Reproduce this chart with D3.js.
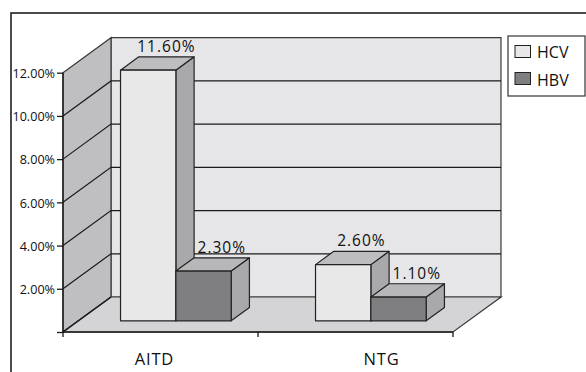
<!DOCTYPE html>
<html><head><meta charset="utf-8">
<script src="https://cdn.jsdelivr.net/npm/d3@7"></script>
<style>body{margin:0;background:#fff}svg{display:block}text{font-family:"Open Sans",sans-serif;fill:#111}</style>
</head><body><svg id="c" width="586" height="372"></svg>
<script>
const categories = ["AITD", "NTG"];
const seriesNames = ["HCV", "HBV"];
const hcvValues = [11.6, 2.6];
const hbvValues = [2.3, 1.1];
const valueLabels = [["11.60%", "2.30%"], ["2.60%", "1.10%"]];
const yTicks = [0, 2, 4, 6, 8, 10, 12];
const yTickLabels = ["", "2.00%", "4.00%", "6.00%", "8.00%", "10.00%", "12.00%"];

const svg = d3.select("#c");
const frontX0 = 63, frontX1 = 453, frontY0 = 332, frontY1 = 72.7;
const DX = 48, DY = -35;           // wall depth offset
const bDepthStart = 0.32, bDepthEnd = 0.70; // bar depth fractions

const y = d3.scaleLinear().domain([0, 12]).range([frontY0, frontY1]);
const x = d3.scaleBand().domain(categories).range([frontX0, frontX1]);
const xs = d3.scaleBand().domain(seriesNames).range([0, x.bandwidth()]).paddingInner(0).paddingOuter(0.762);
const xl = d3.scaleBand().domain(categories).range([41, 495]);

// outer frame
svg.append("rect").attr("x", 11).attr("y", 13).attr("width", 640).attr("height", 420)
  .attr("fill", "none").attr("stroke", "#111").attr("stroke-width", 1.5);

const line = d3.line();
const stroke = "#3a3a3a";
// back wall
svg.append("path").attr("d", line([[frontX0+DX, y(12)+DY],[frontX1+DX, y(12)+DY],[frontX1+DX, y(0)+DY],[frontX0+DX, y(0)+DY]])+"Z")
  .attr("fill", "#e6e6e8").attr("stroke", stroke).attr("stroke-width", 1.2);
// side wall
svg.append("path").attr("d", line([[frontX0, y(12)],[frontX0+DX, y(12)+DY],[frontX0+DX, y(0)+DY],[frontX0, y(0)]])+"Z")
  .attr("fill", "#bfbfc2").attr("stroke", stroke).attr("stroke-width", 1.2);
// floor
svg.append("path").attr("d", line([[frontX0, y(0)],[frontX1, y(0)],[frontX1+DX, y(0)+DY],[frontX0+DX, y(0)+DY]])+"Z")
  .attr("fill", "#d4d4d6").attr("stroke", stroke).attr("stroke-width", 1.2);

// gridlines
yTicks.filter(t => t > 0 && t < 12).forEach(t => {
  svg.append("path").attr("d", line([[frontX0, y(t)],[frontX0+DX, y(t)+DY],[frontX1+DX, y(t)+DY]]))
    .attr("fill", "none").attr("stroke", "#1a1a1a").attr("stroke-width", 1.2);
});
// diagonal floor edge (left)
svg.append("path").attr("d", line([[frontX0, y(0)],[frontX0+DX, y(0)+DY]])).attr("stroke", "#1a1a1a").attr("stroke-width", 1.4);

// y axis
const yAxis = d3.axisLeft(y).tickValues(yTicks).tickSize(6).tickFormat((d, i) => yTickLabels[i]);
const ga = svg.append("g").attr("transform", `translate(${frontX0},0)`).call(yAxis);
ga.select(".domain").attr("stroke", "#1a1a1a").attr("stroke-width", 1.4).attr("d", `M0,${y(12)}V${y(0)}`);
ga.selectAll(".tick line").attr("stroke", "#1a1a1a").attr("stroke-width", 1.3);
ga.selectAll(".tick text").attr("x", -8).attr("font-size", 12.6).attr("font-family", "'Open Sans',sans-serif").attr("fill", "#111").attr("dy", "0.38em");

// x axis
const xAxis = d3.axisBottom(x).tickValues([]).tickSize(0);
const gx = svg.append("g").attr("transform", `translate(0,${frontY0})`).call(xAxis);
gx.select(".domain").attr("stroke", "#1a1a1a").attr("stroke-width", 1.4).attr("d", `M${frontX0},0H${frontX1}`);
[frontX0, frontX0 + x.step(), frontX1].forEach(t => {
  gx.append("line").attr("x1", t).attr("x2", t).attr("y1", 0).attr("y2", 5).attr("stroke", "#1a1a1a").attr("stroke-width", 1.3);
});
categories.forEach(c => {
  svg.append("text").attr("x", xl(c) + xl.bandwidth()/2).attr("y", 365).attr("text-anchor", "middle")
    .attr("font-size", 16.5).attr("letter-spacing", 0.8).text(c);
});

// bars
const fills = {HCV: {front: "#e8e8e9", top: "#bdbdc0", side: "#a9a9ac"}, HBV: {front: "#7f7f81", top: "#b7b7ba", side: "#a9a9ac"}};
const sx = DX * bDepthStart, sy = DY * bDepthStart;
const bdx = DX * (bDepthEnd - bDepthStart), bdy = DY * (bDepthEnd - bDepthStart);
categories.forEach((c, ci) => {
  const vals = [hcvValues[ci], hbvValues[ci]];
  seriesNames.forEach((s, si) => {
    const v = vals[si];
    const x0 = x(c) + xs(s) + sx, x1 = x0 + xs.bandwidth();
    const yb = y(0) + sy, yt = y(v) + sy;
    const f = fills[s];
    svg.append("path").attr("d", line([[x1, yt],[x1+bdx, yt+bdy],[x1+bdx, yb+bdy],[x1, yb]])+"Z")
      .attr("fill", f.side).attr("stroke", "#222").attr("stroke-width", 1.2).attr("stroke-linejoin", "round");
    svg.append("path").attr("d", line([[x0, yt],[x0+bdx, yt+bdy],[x1+bdx, yt+bdy],[x1, yt]])+"Z")
      .attr("fill", f.top).attr("stroke", "#222").attr("stroke-width", 1.2).attr("stroke-linejoin", "round");
    svg.append("path").attr("d", line([[x0, yt],[x1, yt],[x1, yb],[x0, yb]])+"Z")
      .attr("fill", f.front).attr("stroke", "#222").attr("stroke-width", 1.2).attr("stroke-linejoin", "round");
  });
  seriesNames.forEach((s, si) => {
    const v = vals[si];
    const cx = x(c) + xs(s) + xs.bandwidth()/2 + sx + bdx;
    const ty = y(v) + sy + bdy - 5;
    svg.append("text").attr("x", cx).attr("y", ty).attr("text-anchor", "middle")
      .attr("font-size", 15.5).attr("letter-spacing", 1).text(valueLabels[ci][si]);
  });
});

// legend
const lg = svg.append("g");
lg.append("rect").attr("x", 508).attr("y", 36).attr("width", 77).attr("height", 60)
  .attr("fill", "#fff").attr("stroke", "#333").attr("stroke-width", 1.2);
seriesNames.forEach((s, i) => {
  lg.append("rect").attr("x", 515).attr("y", 45.5 + i * 27).attr("width", 15.5).attr("height", 12)
    .attr("fill", fills[s].front).attr("stroke", "#222").attr("stroke-width", 1);
  lg.append("text").attr("x", 537).attr("y", 57.5 + i * 28.5).attr("font-size", 16).text(s);
});
</script></body></html>
